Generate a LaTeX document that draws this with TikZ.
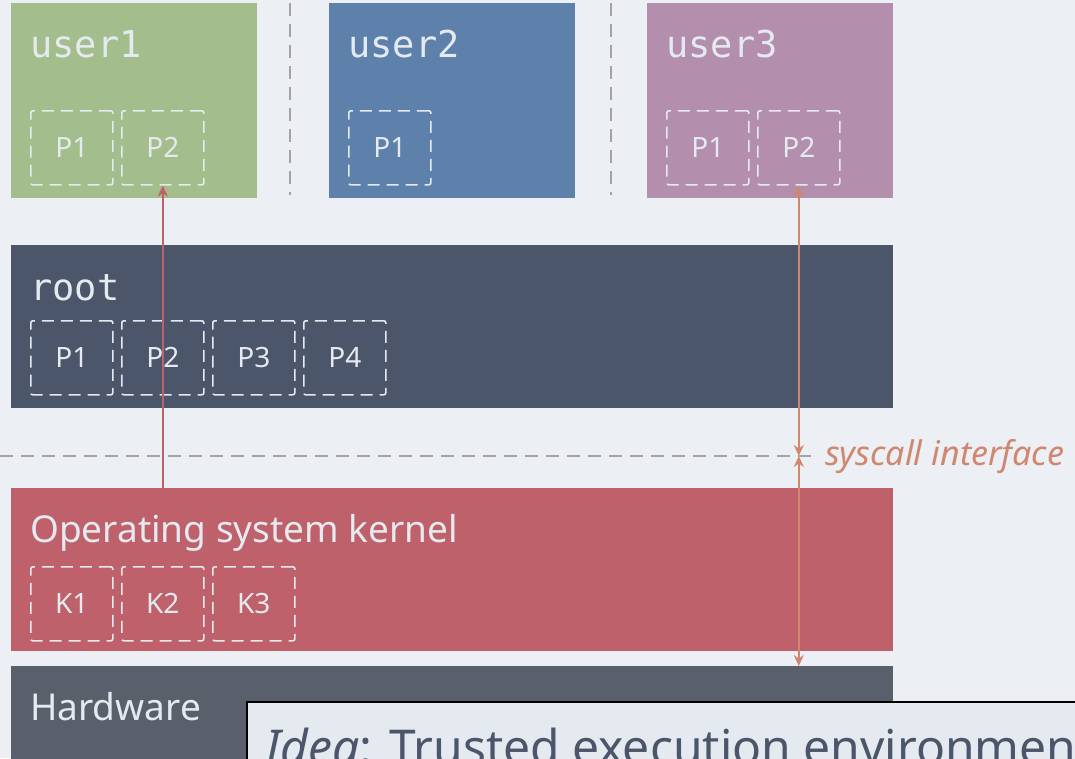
\documentclass[tikz,border=0pt]{standalone}
\usepackage{fontspec}
\setmainfont{Noto Sans}
\setmonofont{DejaVu Sans Mono}
\usetikzlibrary{arrows.meta}
\definecolor{bgc}{HTML}{ECEFF4}
\definecolor{snowc}{HTML}{E5E9F0}
\definecolor{greenc}{HTML}{A3BE8C}
\definecolor{bluec}{HTML}{5E81AC}
\definecolor{purplec}{HTML}{B48EAD}
\definecolor{rootc}{HTML}{4C566A}
\definecolor{redc}{HTML}{BF616A}
\definecolor{hwc}{HTML}{5A606B}
\definecolor{orangec}{HTML}{D08770}
\definecolor{sepc}{HTML}{A3A3A3}
\tikzset{
  layer/.style={anchor=north west, inner sep=0pt, outer sep=0pt, draw=none},
  proc/.style={anchor=north west, inner sep=0pt, minimum width=82pt, minimum height=74pt,
    draw=snowc, line width=1.6pt, dash pattern=on 12pt off 7pt, rounded corners=2pt,
    text=snowc, font=\fontsize{28}{32}\selectfont},
  monolabel/.style={anchor=base west, inner sep=0pt, text=snowc, font=\ttfamily\fontsize{37}{42}\selectfont},
  sanslabel/.style={anchor=base west, inner sep=0pt, text=snowc, font=\fontsize{37}{44}\selectfont},
  sepline/.style={draw=sepc, line width=1.8pt, dash pattern=on 13pt off 8pt},
  tip/.style={Stealth[length=11pt,width=10pt,inset=3.5pt]},
  redarrow/.style={draw=redc, line width=1.6pt, -{Stealth[length=11pt,width=10pt,inset=3.5pt]}},
  orarrow/.style={draw=orangec, line width=1.6pt, {Stealth[length=11pt,width=10pt,inset=3.5pt]}-{Stealth[length=11pt,width=10pt,inset=3.5pt]}},
}
\begin{document}
\begin{tikzpicture}[x=1pt,y=-1pt]
\useasboundingbox[fill=bgc] (0,0) rectangle (1075,758);
\clip (0,0) rectangle (1075,758);
% user boxes
\node[layer, fill=greenc, minimum width=246pt, minimum height=195pt] (u1) at (11,3) {};
\node[layer, fill=bluec, minimum width=246pt, minimum height=195pt] (u2) at (329,3) {};
\node[layer, fill=purplec, minimum width=246pt, minimum height=195pt] (u3) at (647,3) {};
\node[monolabel] (u1l) at (30,57) {user1};
\node[monolabel] (u2l) at (348,57) {user2};
\node[monolabel] (u3l) at (666,57) {user3};
\node[proc] (u1p1) at (30,110) {P1};
\node[proc] (u1p2) at (121,110) {P2};
\node[proc] (u2p1) at (348,110) {P1};
\node[proc] (u3p1) at (666,110) {P1};
\node[proc] (u3p2) at (757,110) {P2};
% separators
\coordinate (s1a) at (290,3);
\coordinate (s1b) at (290,195);
\coordinate (s2a) at (611,3);
\coordinate (s2b) at (611,195);
\draw[sepline] (s1a) -- (s1b);
\draw[sepline] (s2a) -- (s2b);
% root
\node[layer, fill=rootc, minimum width=882pt, minimum height=163pt] (root) at (11,245) {};
\node[monolabel] (rootl) at (30,300) {root};
\node[proc] (rp1) at (30,320) {P1};
\node[proc] (rp2) at (121,320) {P2};
\node[proc] (rp3) at (212,320) {P3};
\node[proc] (rp4) at (303,320) {P4};
% syscall line
\coordinate (sysa) at (0,456);
\coordinate (sysb) at (815,456);
\draw[sepline] (sysa) -- (sysb);
\node[anchor=base west, inner sep=0pt, text=orangec, font=\itshape\fontsize{34}{40}\selectfont] (sysl) at (825,465) {syscall interface};
% kernel
\node[layer, fill=redc, minimum width=882pt, minimum height=163pt] (kern) at (11,488) {};
\node[sanslabel] (kernl) at (30,542) {Operating system kernel};
\node[proc] (k1) at (30,566) {K1};
\node[proc] (k2) at (121,566) {K2};
\node[proc] (k3) at (212,566) {K3};
% hardware
\node[layer, fill=hwc, minimum width=882pt, minimum height=120pt] (hw) at (11,666) {};
\node[sanslabel] (hwl) at (30,720) {Hardware};
% arrows
\draw[redarrow] (kern.north -| u1p2.south) -- (u1p2.south);
\coordinate (sysx) at (u3p2.south |- sysa);
\draw[orarrow] (u3p2.south) -- (sysx);
\draw[orarrow] (sysx) -- (hw.north -| u3p2.south);
% overlay
\node[layer, draw=black, line width=1.5pt, fill=snowc, minimum width=900pt, minimum height=120pt] (idea) at (247,702) {};
\node[anchor=base west, inner sep=0pt, text=rootc, font=\fontsize{48}{54}\selectfont] (ideal) at (265,764) {\textit{Idea}: Trusted execution environment};
\end{tikzpicture}
\end{document}
